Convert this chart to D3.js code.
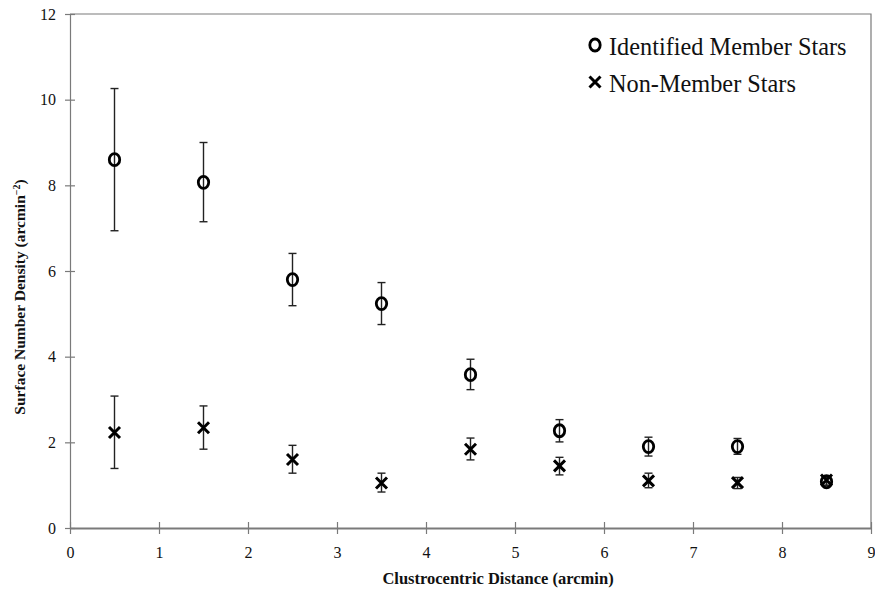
<!DOCTYPE html>
<html>
<head>
<meta charset="utf-8">
<script src="https://cdn.jsdelivr.net/npm/d3@7"></script>
<style>
  html, body { margin: 0; padding: 0; background: #fff; }
  svg { display: block; }
  svg text { font-family: "Liberation Serif", "Tinos", "Times New Roman", Times, "DejaVu Serif", "Noto Serif", serif !important; fill: #111; }
</style>
</head>
<body>
<svg id="chart" width="875" height="597"></svg>
<script>
// Radial bins (arcmin)
const radius = [0.5, 1.5, 2.5, 3.5, 4.5, 5.5, 6.5, 7.5, 8.5];

// Identified member stars: density and error-bar bounds
const memberDensity = [8.60, 8.07, 5.80, 5.24, 3.58, 2.27, 1.90, 1.90, 1.08];
const memberUpper   = [10.26, 9.00, 6.41, 5.73, 3.94, 2.53, 2.12, 2.09, 1.18];
const memberLower   = [6.94, 7.15, 5.19, 4.75, 3.23, 2.01, 1.68, 1.72, 0.99];

// Non-member stars: density and error-bar bounds
const nonDensity = [2.23, 2.34, 1.60, 1.05, 1.84, 1.45, 1.10, 1.06, 1.12];
const nonUpper   = [3.08, 2.85, 1.93, 1.28, 2.10, 1.65, 1.28, 1.18, 1.22];
const nonLower   = [1.39, 1.84, 1.28, 0.84, 1.59, 1.24, 0.94, 0.92, 1.00];

const xTicks = [0, 1, 2, 3, 4, 5, 6, 7, 8, 9];
const yTicks = [0, 2, 4, 6, 8, 10, 12];

const svg = d3.select("#chart");
const margin = { left: 70, right: 4, top: 14, bottom: 69 };
const W = 875, H = 597;
const serif = '"Liberation Serif", "Tinos", "Times New Roman", Times, "DejaVu Serif", serif';

const x = d3.scaleLinear().domain([0, 9]).range([margin.left, W - margin.right]);
const y = d3.scaleLinear().domain([0, 12]).range([H - margin.bottom, margin.top]);

const axisColor = "#7a7a7a";

// Frame (top and right edges)
svg.append("path")
  .attr("d", `M${x(0)},${y(12)}H${x(9)}V${y(0)}`)
  .attr("fill", "none").attr("stroke", axisColor).attr("stroke-width", 1.2);

// X axis
const xAxis = svg.append("g").attr("transform", `translate(0,${y(0)})`)
  .call(d3.axisBottom(x).tickValues(xTicks).tickSize(0).tickPadding(19).tickFormat(d3.format("d")));
xAxis.attr("font-family", serif);
xAxis.select(".domain").attr("stroke", axisColor).attr("stroke-width", 2);
xAxis.selectAll(".tick").append("line")
  .attr("y1", -6).attr("y2", 6).attr("stroke", axisColor).attr("stroke-width", 1.2);
xAxis.selectAll("text").attr("font-size", 16).attr("fill", "#222");

// Y axis
const yAxis = svg.append("g").attr("transform", `translate(${x(0)},0)`)
  .call(d3.axisLeft(y).tickValues(yTicks).tickSize(0).tickPadding(14).tickFormat(d3.format("d")));
yAxis.attr("font-family", serif);
yAxis.select(".domain").attr("stroke", axisColor).attr("stroke-width", 1.2);
yAxis.selectAll(".tick").append("line")
  .attr("x1", -5).attr("x2", 5).attr("stroke", axisColor).attr("stroke-width", 1.2);
yAxis.selectAll("text").attr("font-size", 16).attr("fill", "#222");

// Axis titles
svg.append("text")
  .attr("x", 498).attr("y", 584)
  .attr("text-anchor", "middle").attr("font-size", 16.5).attr("font-weight", "bold")
  .text("Clustrocentric Distance (arcmin)");

const yTitle = svg.append("text")
  .attr("transform", `translate(25,297) rotate(-90)`)
  .attr("text-anchor", "middle").attr("font-size", 15.5).attr("font-weight", "bold");
yTitle.append("tspan").text("Surface Number Density (arcmin");
yTitle.append("tspan").attr("font-size", 10).attr("dy", -5).text("\u22122");
yTitle.append("tspan").attr("dy", 5).text(")");

// Error bars
function errorBars(lower, upper, cls) {
  const g = svg.append("g").attr("class", cls)
    .attr("stroke", "#222").attr("stroke-width", 1.4).attr("fill", "none");
  radius.forEach((r, i) => {
    const cx = x(r), y1 = y(upper[i]), y2 = y(lower[i]);
    g.append("line").attr("x1", cx).attr("x2", cx).attr("y1", y1).attr("y2", y2);
    g.append("line").attr("x1", cx - 4).attr("x2", cx + 4).attr("y1", y1).attr("y2", y1);
    g.append("line").attr("x1", cx - 4).attr("x2", cx + 4).attr("y1", y2).attr("y2", y2);
  });
}
errorBars(memberLower, memberUpper, "err-members");
errorBars(nonLower, nonUpper, "err-nonmembers");

// Markers
function circleMark(g, cx, cy) {
  g.append("ellipse").attr("cx", cx).attr("cy", cy).attr("rx", 5.2).attr("ry", 6)
    .attr("fill", "none").attr("stroke", "#000").attr("stroke-width", 2.8);
}
function crossMark(g, cx, cy) {
  const s = 5.5;
  g.append("path")
    .attr("d", `M${cx - s},${cy - s}L${cx + s},${cy + s}M${cx - s},${cy + s}L${cx + s},${cy - s}`)
    .attr("stroke", "#000").attr("stroke-width", 3).attr("fill", "none");
}

const members = svg.append("g").attr("class", "members");
radius.forEach((r, i) => circleMark(members, x(r), y(memberDensity[i])));
const nonMembers = svg.append("g").attr("class", "non-members");
radius.forEach((r, i) => crossMark(nonMembers, x(r), y(nonDensity[i])));

// Legend
const legend = svg.append("g").attr("class", "legend");
circleMark(legend, 595, 45);
legend.append("text").attr("x", 609).attr("y", 55).attr("font-size", 24.3).text("Identified Member Stars");
crossMark(legend, 595, 82);
legend.append("text").attr("x", 609).attr("y", 92).attr("font-size", 24.3).text("Non-Member Stars");
</script>
</body>
</html>
